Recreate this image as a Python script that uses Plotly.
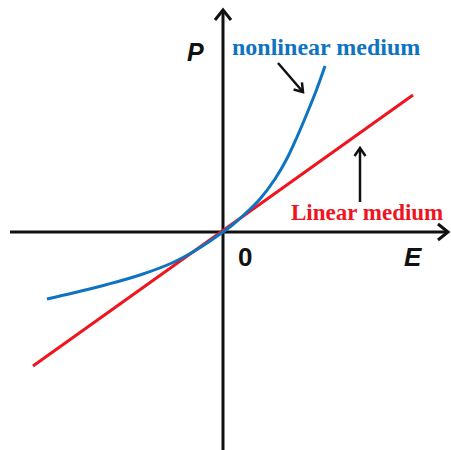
import math
import plotly.graph_objects as go

# Data (E in arbitrary units, P in arbitrary units)
linear_E = [-1.90, 1.90]
linear_P = [-1.34, 1.37]

nonlinear_E = [-1.76, -1.50, -1.16, -0.83, -0.50, -0.26, 0.0, 0.10, 0.24, 0.37, 0.52, 0.64, 0.74, 0.84, 0.94, 1.02]
nonlinear_P = [-0.67, -0.61, -0.525, -0.43, -0.305, -0.175, 0.0, 0.075, 0.20, 0.33, 0.53, 0.735, 0.95, 1.185, 1.435, 1.66]

BLUE = "#0e74c2"
RED = "#f0141e"
BLACK = "#111111"

fig = go.Figure()
fig.add_trace(go.Scatter(x=linear_E, y=linear_P, mode="lines",
                         line=dict(color=RED, width=3), hoverinfo="skip"))
fig.add_trace(go.Scatter(x=nonlinear_E, y=nonlinear_P, mode="lines",
                         line=dict(color=BLUE, width=3, shape="spline", smoothing=1.0),
                         hoverinfo="skip"))

shapes = []
def line(x0, y0, x1, y1, w=3):
    shapes.append(dict(type="line", x0=x0, y0=y0, x1=x1, y1=y1, xref="x", yref="y",
                       line=dict(color=BLACK, width=w), layer="below"))

def vhead(tx, ty, dx, dy, back=0.10, half=0.08, w=3):
    px, py = -dy, dx
    bx, by = tx - dx * back, ty - dy * back
    shapes.append(dict(type="path", xref="x", yref="y",
                       path=f"M {bx + px*half} {by + py*half} L {tx} {ty} L {bx - px*half} {by - py*half}",
                       line=dict(color=BLACK, width=w), layer="below"))

# axes
line(-2.13, 0, 2.24, 0)
line(0, -2.30, 0, 2.21)
vhead(2.25, 0, 1, 0)
vhead(0, 2.22, 0, 1)

# pointer arrows
ax0, ay0, ax1, ay1 = 0.55, 1.69, 0.80, 1.40
line(ax0, ay0, ax1, ay1, w=2.5)
L = math.hypot(ax1 - ax0, ay1 - ay0)
vhead(ax1, ay1, (ax1 - ax0) / L, (ay1 - ay0) / L, back=0.08, half=0.055, w=2.5)

line(1.37, 0.30, 1.37, 0.83, w=2.5)
vhead(1.37, 0.84, 0, 1, back=0.08, half=0.055, w=2.5)

annotations = [
    dict(x=-0.28, y=1.80, text="<b><i>P</i></b>", showarrow=False,
         font=dict(family="Liberation Sans", size=25, color=BLACK)),
    dict(x=1.03, y=1.85, text="<b>nonlinear medium</b>", showarrow=False,
         font=dict(family="Liberation Serif", size=24, color=BLUE)),
    dict(x=1.44, y=0.20, text="<b>Linear medium</b>", showarrow=False,
         font=dict(family="Liberation Serif", size=23, color=RED)),
    dict(x=0.22, y=-0.25, text="<b>0</b>", showarrow=False,
         font=dict(family="Liberation Sans", size=26, color=BLACK)),
    dict(x=1.90, y=-0.25, text="<b><i>E</i></b>", showarrow=False,
         font=dict(family="Liberation Sans", size=26, color=BLACK)),
]

fig.update_layout(
    width=451, height=450,
    margin=dict(l=0, r=0, t=0, b=0),
    paper_bgcolor="white", plot_bgcolor="white",
    showlegend=False,
    xaxis=dict(range=[-2.23, 2.28], visible=False, fixedrange=True),
    yaxis=dict(range=[-2.18, 2.32], visible=False, fixedrange=True),
    shapes=shapes,
    annotations=annotations,
)

fig.write_html("out.html", config={"displayModeBar": False},
               post_script="document.body.style.margin='0px';document.body.style.overflow='hidden';")
